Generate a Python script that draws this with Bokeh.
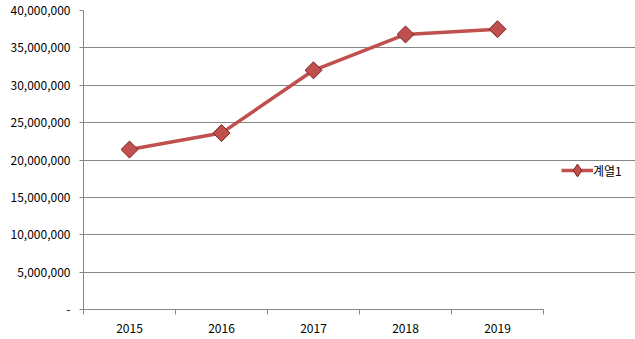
import math
from bokeh.plotting import figure
from bokeh.models import FixedTicker, Legend, LegendItem
from bokeh.embed import file_html
from bokeh.resources import INLINE

years = ["2015", "2016", "2017", "2018", "2019"]
values = [21400000, 23600000, 32000000, 36800000, 37500000]
series_name = "계열1"
y_ticks = [0, 5000000, 10000000, 15000000, 20000000, 25000000, 30000000, 35000000, 40000000]
y_labels = ["-", "5,000,000", "10,000,000", "15,000,000", "20,000,000",
            "25,000,000", "30,000,000", "35,000,000", "40,000,000"]

FONT = "Noto Sans CJK KR"
n = len(years)
xs = [i + 0.5 for i in range(n)]

# frame spans 83..635 px; categories occupy 0..n (460 px), extra unit holds the legend
p = figure(width=635, height=339, output_backend="svg", toolbar_location=None,
           x_range=(0, n * 552 / 460), y_range=(0, 40000000),
           min_border_left=83, min_border_right=0, min_border_top=10, min_border_bottom=30)
p.outline_line_color = None
p.background_fill_color = "white"
p.border_fill_color = "white"

line = p.line(xs, values, line_color="#C0504D", line_width=3.5)
# diamond glyph used for the legend swatch (hidden beneath the main markers)
leg_marker = p.scatter(xs, values, marker="diamond", size=8,
                       fill_color="#C0504D", line_color="#7A2624", line_width=1)
pts = p.scatter(xs, values, marker="square", angle=math.pi / 4, size=12,
                fill_color="#C0504D", line_color="#7A2624", line_width=1)

# x axis
p.xaxis.bounds = (0, n)
p.xaxis.ticker = FixedTicker(ticks=xs, minor_ticks=list(range(n + 1)))
p.xaxis.major_label_overrides = {x: y for x, y in zip(xs, years)}
p.xaxis.major_tick_out = 0
p.xaxis.major_tick_in = 0
p.xaxis.minor_tick_out = 5
p.xaxis.minor_tick_in = 0
p.xaxis.minor_tick_line_color = "#868686"
p.xaxis.axis_line_color = "#868686"
p.xaxis.major_label_standoff = 9
p.xaxis.major_label_text_font = FONT
p.xaxis.major_label_text_font_size = "12px"
p.xaxis.major_label_text_color = "#000000"

# y axis
p.yaxis.ticker = FixedTicker(ticks=y_ticks, minor_ticks=[])
p.yaxis.major_label_overrides = {t: l for t, l in zip(y_ticks, y_labels)}
p.yaxis.major_tick_out = 4
p.yaxis.major_tick_in = 0
p.yaxis.minor_tick_out = 0
p.yaxis.major_tick_line_color = "#868686"
p.yaxis.axis_line_color = "#868686"
p.yaxis.major_label_standoff = 9
p.yaxis.major_label_text_font = FONT
p.yaxis.major_label_text_font_size = "12px"
p.yaxis.major_label_text_color = "#000000"

p.xgrid.grid_line_color = None
p.ygrid.ticker = FixedTicker(ticks=y_ticks)
p.ygrid.bounds = (0, n)
p.ygrid.grid_line_color = "#868686"
p.ygrid.grid_line_width = 1

legend = Legend(items=[LegendItem(label=series_name, renderers=[line, leg_marker], index=0)],
                location=(478, 122))
legend.border_line_color = None
legend.background_fill_alpha = 0
legend.padding = 0
legend.margin = 0
legend.glyph_width = 32
legend.glyph_height = 34
legend.label_standoff = 0
legend.label_text_font = FONT
legend.label_text_font_size = "12px"
legend.label_text_color = "#000000"
p.add_layout(legend, "center")

open("out.html", "w").write(file_html(p, INLINE))
